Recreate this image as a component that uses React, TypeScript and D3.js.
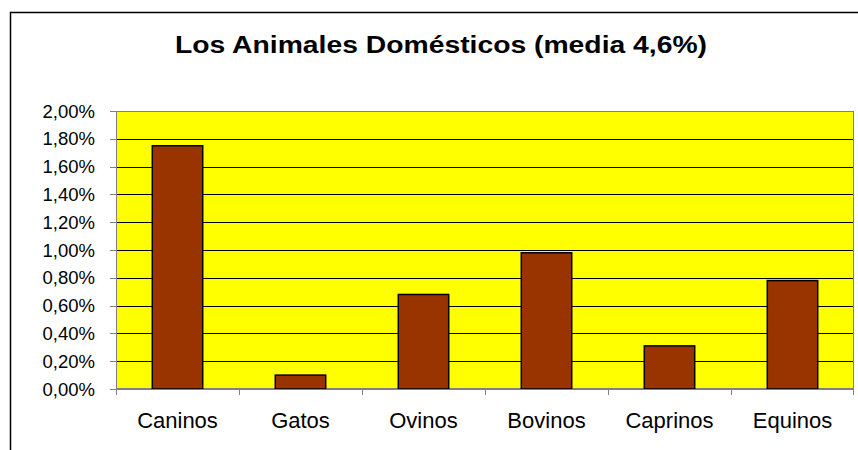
import React from "react";
import * as d3 from "d3";

const categories = ["Caninos", "Gatos", "Ovinos", "Bovinos", "Caprinos", "Equinos"];
const values = [1.75, 0.1, 0.68, 0.98, 0.31, 0.78];
const yTicks = [0, 0.2, 0.4, 0.6, 0.8, 1.0, 1.2, 1.4, 1.6, 1.8, 2.0];
const title = "Los Animales Domésticos (media 4,6%)";

export default function App() {
  const W = 858, H = 450;
  const left = 116, right = 854, top = 111, bottom = 389;
  const x = d3.scaleBand<string>().domain(categories).range([left, right]).paddingInner(0.59).paddingOuter(0.295);
  const xOuter = d3.scaleBand<string>().domain(categories).range([left, right]);
  const y = d3.scaleLinear().domain([0, 2]).range([bottom, top]);
  const fmt = (v: number) => v.toFixed(2).replace(".", ",") + "%";
  const font = "Arial, 'Liberation Sans', Helvetica, sans-serif";
  return (
    <svg width={W} height={H} style={{ position: "absolute", left: 0, top: 0 }} fontFamily={font}>
      <rect x={0} y={0} width={W} height={H} fill="#fff" />
      <rect x={10.5} y={12.5} width={W + 10} height={H + 10} fill="none" stroke="#000" strokeWidth={1.5} />
      <text x={441} y={53} textAnchor="middle" fontSize={23} fontWeight="bold" textLength={532} lengthAdjust="spacingAndGlyphs">{title}</text>
      <rect x={left} y={top} width={right - left} height={bottom - top} fill="#ffff00" />
      {yTicks.map((t) => (
        <g key={t}>
          {t > 0 && t < 2 && (
            <line x1={left} x2={right} y1={Math.round(y(t)) + 0.5} y2={Math.round(y(t)) + 0.5} stroke="#000" strokeWidth={1} />
          )}
          <line x1={left - 6} x2={left} y1={Math.round(y(t)) + 0.5} y2={Math.round(y(t)) + 0.5} stroke="#808080" />
          <text x={95} y={y(t) + 6.5} textAnchor="end" fontSize={18.5}>{fmt(t)}</text>
        </g>
      ))}
      <rect x={left + 0.5} y={top + 0.5} width={right - left - 1} height={bottom - top - 1} fill="none" stroke="#808080" />
      {categories.map((c, i) => (
        <rect key={c} x={x(c)!} y={y(values[i])} width={x.bandwidth()} height={bottom - y(values[i])}
          fill="#993300" stroke="#000" strokeWidth={1.5} />
      ))}
      {categories.map((c) => (
        <line key={"t" + c} x1={Math.round(xOuter(c)!) + 0.5} x2={Math.round(xOuter(c)!) + 0.5} y1={bottom} y2={bottom + 6} stroke="#808080" />
      ))}
      <line x1={right - 0.5} x2={right - 0.5} y1={bottom} y2={bottom + 6} stroke="#808080" />
      <line x1={left} x2={right} y1={bottom + 0.5} y2={bottom + 0.5} stroke="#808080" />
      {categories.map((c) => (
        <text key={"l" + c} x={xOuter(c)! + xOuter.bandwidth() / 2} y={428} textAnchor="middle" fontSize={22}>{c}</text>
      ))}
    </svg>
  );
}
